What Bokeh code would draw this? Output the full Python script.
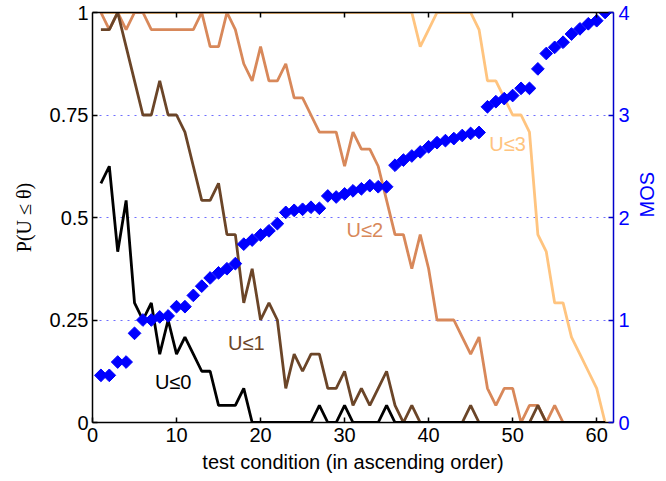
from bokeh.plotting import figure
from bokeh.models import Range1d, LinearAxis, Label, FixedTicker
from bokeh.embed import file_html
from bokeh.resources import INLINE

# ---- data (values in 1/24 steps) ----
conditions = list(range(1, 62))

u0 = [14, 15, 10, 13, 7, 6, 7, 4, 6, 4, 5, 4, 3, 3, 1, 1, 1, 2, 0, 0,
      0, 0, 0, 0, 0, 0, 1, 0, 0, 1, 0, 0, 0, 0, 1, 0, 0, 0, 0, 0,
      0, 0, 0, 0, 0, 0, 0, 0, 0, 0, 0, 0, 0, 0, 0, 0, 0, 0, 0, 0, 0]
u1 = [23, 23, 24, 22, 20, 18, 18, 20, 18, 18, 17, 15, 13, 13, 14, 11, 11, 7, 9, 6,
      7, 6, 2, 4, 3, 4, 4, 2, 2, 3, 1, 2, 1, 2, 3, 1, 0, 1, 0, 0,
      0, 0, 0, 0, 1, 0, 0, 0, 0, 0, 0, 0, 1, 0, 0, 0, 0, 0, 0, 0, 0]
u2 = [24, 23, 24, 23, 24, 24, 23, 23, 23, 23, 23, 23, 24, 22, 22, 24, 23, 21, 20, 22,
      20, 20, 21, 19, 19, 18, 17, 17, 17, 15, 17, 16, 16, 15, 13, 11, 11, 9, 11, 9,
      6, 6, 6, 5, 4, 5, 2, 1, 2, 2, 0, 1, 1, 0, 1, 0, 0, 0, 0, 0, 0]
u3 = [24] * 38 + [22, 23, 24, 24, 24, 24, 24, 23, 20, 20, 19, 18, 18, 17, 11, 10,
                  7, 7, 5, 4, 3, 2, 0]
mos = [0.46, 0.46, 0.59, 0.59, 0.87, 1.00, 1.00, 1.03, 1.04, 1.13, 1.13, 1.24, 1.33, 1.41, 1.46, 1.50,
       1.55, 1.74, 1.78, 1.83, 1.87, 1.94, 2.05, 2.07, 2.08, 2.10, 2.09, 2.21, 2.20, 2.23, 2.26, 2.28,
       2.31, 2.30, 2.30, 2.51, 2.56, 2.60, 2.64, 2.69, 2.73, 2.75, 2.77, 2.80, 2.82, 2.83, 3.08, 3.13,
       3.16, 3.19, 3.26, 3.26, 3.45, 3.60, 3.66, 3.71, 3.79, 3.84, 3.89, 3.92, 4.00]

series_names = ["U≤0", "U≤1", "U≤2", "U≤3"]
series_colors = ["#000000", "#6B4528", "#D8885A", "#FFC47F"]
label_pos = [(9.6, 0.10), (18.3, 0.195), (32.4, 0.47), (49.4, 0.68)]

def prob(v):
    return [c / 24 for c in v]

p = figure(frame_width=521, frame_height=410, output_backend="svg", toolbar_location=None,
           x_range=Range1d(0, 62), y_range=Range1d(0, 1),
           min_border_left=92, min_border_top=12, min_border_right=45, min_border_bottom=10,
           background_fill_color="white", border_fill_color="white")
p.outline_line_color = None
p.extra_y_ranges = {"mos": Range1d(0, 4)}

# grid
p.xgrid.visible = False
p.ygrid.ticker = FixedTicker(ticks=[0.25, 0.5, 0.75])
p.ygrid.grid_line_color = "#3030ff"
p.ygrid.grid_line_alpha = 0.7
p.ygrid.grid_line_dash = "2 5"
p.ygrid.grid_line_width = 1

font = "Liberation Sans"
fs = "20px"

# left axis
ya = p.yaxis[0]
ya.ticker = FixedTicker(ticks=[0, 0.25, 0.5, 0.75, 1])
ya.major_label_overrides = {0: "0", 0.25: "0.25", 0.5: "0.5", 0.75: "0.75", 1: "1"}
ya.axis_label = "P(U ≤ θ)"
ya.axis_label_text_font = "Liberation Serif"
ya.axis_label_text_font_style = "normal"
ya.axis_label_text_font_size = "20px"
ya.axis_label_text_color = "#000000"
ya.axis_label_standoff = 12
ya.major_label_text_font = font
ya.major_label_text_font_size = fs
ya.major_label_text_color = "#000000"
ya.major_label_standoff = 4
ya.major_tick_in = 5
ya.major_tick_out = 0
ya.minor_tick_line_color = None
ya.axis_line_width = 1.5
ya.major_tick_line_width = 1.5

# bottom axis
xa = p.xaxis[0]
xa.ticker = FixedTicker(ticks=[0, 10, 20, 30, 40, 50, 60])
xa.axis_label = "test condition (in ascending order)"
xa.axis_label_text_font = font
xa.axis_label_text_font_style = "normal"
xa.axis_label_text_font_size = fs
xa.axis_label_text_color = "#000000"
xa.axis_label_standoff = 6
xa.major_label_text_font = font
xa.major_label_text_font_size = fs
xa.major_label_text_color = "#000000"
xa.major_label_standoff = 5
xa.major_tick_in = 5
xa.major_tick_out = 0
xa.minor_tick_line_color = None
xa.axis_line_width = 1.5
xa.major_tick_line_width = 1.5

# top axis (box)
top = LinearAxis(ticker=FixedTicker(ticks=[10, 20, 30, 40, 50, 60]))
top.major_label_text_font_size = "0px"
top.major_label_text_color = None
top.major_tick_in = 5
top.major_tick_out = 0
top.minor_tick_line_color = None
top.axis_line_width = 1.5
top.major_tick_line_width = 1.5
top.major_label_standoff = 0
p.add_layout(top, "above")

# right axis (MOS)
ra = LinearAxis(y_range_name="mos", ticker=FixedTicker(ticks=[0, 1, 2, 3, 4]))
ra.axis_label = "MOS"
ra.axis_label_text_font = font
ra.axis_label_text_font_style = "normal"
ra.axis_label_text_font_size = fs
ra.axis_label_text_color = "#0000ff"
ra.axis_label_standoff = 14
ra.axis_label_orientation = 1.5707963
ra.major_label_text_font = font
ra.major_label_text_font_size = fs
ra.major_label_text_color = "#0000ff"
ra.major_label_standoff = 5
ra.axis_line_color = "#0000cc"
ra.major_tick_line_color = "#0000cc"
ra.major_tick_in = 5
ra.major_tick_out = 0
ra.minor_tick_line_color = None
ra.axis_line_width = 1.5
ra.major_tick_line_width = 1.5
p.add_layout(ra, "right")

# lines
for vals, col in zip([u3, u2, u1, u0], series_colors[::-1]):
    p.line(conditions, prob(vals), line_color=col, line_width=2.8)

# MOS diamonds
p.scatter(conditions, mos, y_range_name="mos", marker="square", angle=0.785398,
          size=9, fill_color="#0000ff", line_color="#0000ff")

# series labels
for name, col, (xv, yv) in zip(series_names, series_colors, label_pos):
    p.add_layout(Label(x=xv, y=yv, text=name, text_color=col, text_font=font,
                       text_font_size=fs, text_align="center", text_baseline="middle"))

open("out.html", "w").write(file_html(p, INLINE))
